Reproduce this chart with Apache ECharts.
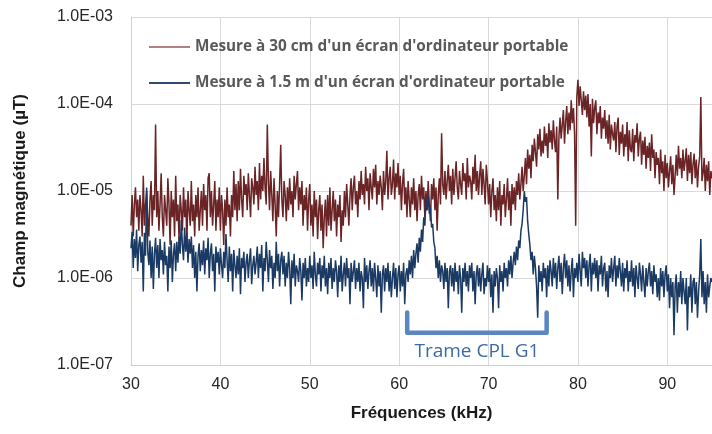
<!DOCTYPE html>
<html>
<head>
<meta charset="utf-8">
<script src="https://cdn.jsdelivr.net/npm/echarts@6/dist/echarts.min.js"></script>
<style>
  html, body { margin: 0; padding: 0; background: #fff; }
  #chart { width: 712px; height: 434px; }
</style>
</head>
<body>
<div id="chart"></div>
<script>
// Frequency sampling grid (kHz)
const freqStart = 30;
const freqStep = 0.125;

// Magnetic field readings in pT (1 pT = 1e-6 µT), one row per kHz
const redPT = [
  4, 9, 3, 7, 11, 5, 8, 3.5,
  9, 6, 3, 15, 4, 7, 10, 5,
  3, 8, 13, 4, 9, 6, 58, 5,
  10, 3.5, 7, 16, 5, 3, 9, 6,
  4, 14, 7, 2.4, 10, 5, 8, 3,
  15, 4.5, 7, 2.8, 9, 6, 3.5, 11,
  5, 8, 2.5, 10, 6, 4, 13, 4.5,
  7, 3, 9, 5, 11, 3.5, 6, 10,
  4, 12, 6, 9, 3.5, 14, 16, 5,
  10, 4, 7, 13, 3.5, 8, 5, 11,
  3.5, 9, 6, 2.4, 8, 4, 11, 5,
  7, 3, 9, 5, 17, 6, 12, 4.5,
  13, 6, 18, 8, 5, 15, 9, 12,
  6, 16, 9, 5, 14, 11, 7, 19,
  9, 13, 6, 21, 8, 15, 10, 24,
  11, 7, 58, 13, 6, 17, 9, 4.5,
  14, 7, 3, 10, 5, 12, 34, 8,
  5, 13, 9, 4.5, 11, 6, 14, 7,
  10, 5, 15, 8, 12, 17, 6, 11,
  7, 13, 4, 9, 6, 11, 3.5, 8,
  12, 4, 7, 3, 10, 5, 8, 2.8,
  6, 9, 3.5, 7, 2.2, 5, 8, 3,
  9, 4, 11, 3.5, 6, 10, 4.5, 8,
  3, 7, 5, 9, 2.6, 6, 4, 10,
  5, 12, 7, 4, 9, 14, 6, 11,
  15, 7, 10, 5, 13, 8, 17, 9,
  12, 7, 19, 10, 14, 6, 16, 11,
  8, 18, 11, 20, 7, 13, 9, 15,
  11, 6, 17, 9, 13, 29, 8, 14,
  19, 9, 12, 23, 8, 16, 11, 21,
  9, 15, 6, 12, 18, 7, 11, 5,
  13, 8, 5, 11, 7, 14, 6, 10,
  4.5, 9, 12, 6, 15, 8, 11, 5,
  10, 6, 13, 7, 4.5, 12, 8, 14,
  6, 11, 3.5, 9, 14, 7, 46, 12,
  9, 17, 8, 13, 20, 10, 15, 7,
  18, 9, 14, 22, 11, 8, 17, 12,
  9, 21, 13, 16, 8, 24, 11, 15,
  13, 8, 19, 12, 26, 10, 17, 9,
  15, 22, 9, 18, 12, 7, 20, 13,
  7, 12, 5, 10, 14, 6, 9, 4.5,
  11, 6, 13, 4, 9, 7, 12, 5,
  8, 14, 6, 10, 4, 12, 7, 11,
  6, 13, 9, 16, 8, 12, 19, 10,
  15, 24, 12, 30, 18, 26, 14, 34,
  22, 40, 28, 19, 45, 30, 52, 25,
  38, 27, 55, 33, 46, 24, 60, 36,
  50, 30, 65, 38, 28, 55, 8, 42,
  70, 40, 58, 85, 35, 62, 95, 45,
  80, 50, 110, 60, 90, 45, 4, 120,
  190, 95, 160, 110, 75, 140, 85, 125,
  70, 130, 55, 100, 25, 115, 60, 90,
  110, 45, 80, 60, 95, 40, 70, 52,
  85, 40, 65, 35, 75, 30, 58, 45,
  38, 62, 28, 55, 70, 26, 48, 35,
  58, 25, 45, 32, 62, 22, 50, 30,
  28, 52, 22, 44, 36, 60, 25, 40,
  48, 20, 38, 26, 42, 18, 33, 24,
  36, 17, 45, 24, 30, 14, 28, 20,
  24, 12, 30, 16, 22, 10, 26, 14,
  21, 11, 17, 25, 12, 20, 9, 15,
  26, 15, 33, 18, 24, 14, 30, 17,
  22, 31, 13, 26, 16, 28, 12, 20,
  27, 14, 23, 11, 19, 25, 120, 13,
  16, 24, 10, 20, 13, 22, 9, 17,
  14
];

const bluePT = [
  2.2, 3.4, 1.3, 2.8, 1.7, 3.6, 1.2, 2.4,
  3.0, 1.5, 2.6, 0.7, 3.3, 1.8, 11, 2.0,
  1.4, 2.7, 1.0, 2.3, 0.75, 1.9, 2.9, 1.3,
  2.4, 1.0, 2.8, 1.6, 2.1, 1.1, 2.6, 1.4,
  1.8, 0.7, 2.3, 1.3, 2.7, 0.9, 1.9, 2.5,
  1.2, 2.6, 1.5, 3.0, 1.9, 4.6, 2.4, 1.6,
  3.8, 2.0, 3.3, 1.5, 2.8, 1.9, 3.0, 1.3,
  2.4, 1.0, 2.0, 0.7, 1.8, 2.5, 1.2, 2.1,
  1.4, 2.7, 1.1, 2.2, 1.6, 2.9, 1.0, 1.9,
  2.5, 1.2, 1.9, 0.7, 2.3, 1.5, 2.0, 1.1,
  2.2, 1.4, 1.0, 2.0, 1.3, 3.2, 1.6, 0.9,
  2.3, 1.2, 1.9, 0.7, 2.1, 1.4, 1.0, 1.8,
  1.1, 2.2, 0.65, 1.7, 1.3, 2.0, 0.9, 1.5,
  1.9, 1.0, 1.6, 2.2, 0.85, 1.4, 1.8, 1.1,
  1.5, 2.3, 1.0, 1.9, 1.3, 2.4, 0.7, 1.7,
  1.2, 2.6, 1.6, 0.9, 2.1, 1.3, 1.8, 0.75,
  1.5, 1.0, 2.6, 1.2, 1.9, 0.8, 1.6, 2.0,
  1.1, 1.8, 0.8, 1.5, 1.0, 2.0, 1.3, 0.5,
  1.6, 1.0, 1.9, 0.8, 1.4, 1.2, 0.9, 1.7,
  1.2, 0.55, 1.5, 1.0, 1.7, 0.8, 1.3, 0.9,
  1.8, 1.0, 1.4, 0.75, 2.0, 1.1, 0.8, 1.5,
  1.1, 1.7, 0.7, 1.4, 1.0, 1.8, 0.8, 1.3,
  0.65, 1.5, 1.0, 1.7, 0.75, 1.3, 0.9, 1.6,
  1.2, 0.6, 1.4, 0.9, 1.8, 0.7, 1.1, 1.5,
  0.8, 1.7, 1.0, 1.3, 0.5, 1.5, 0.9, 1.2,
  1.6, 0.75, 1.3, 0.9, 1.5, 0.7, 1.2, 1.0,
  0.45, 1.7, 0.9, 1.4, 0.75, 1.2, 1.6, 0.8,
  1.3, 0.7, 1.5, 1.0, 0.6, 1.4, 0.8, 1.2,
  0.4, 1.1, 1.4, 0.7, 1.3, 0.9, 1.5, 0.7,
  1.2, 0.6, 1.0, 1.5, 0.75, 1.3, 0.6, 1.1,
  1.4, 0.7, 1.2, 0.8, 1.5, 0.5, 1.1, 1.3,
  0.9, 1.6, 1.1, 1.8, 1.0, 2.1, 1.3, 1.9,
  2.5, 1.5, 2.9, 2.0, 3.6, 2.6, 5.0, 4.0,
  8.0, 6.0, 9.0, 5.5, 6.5, 3.8, 4.2, 2.6,
  2.2, 1.3, 1.8, 1.0, 1.6, 0.9, 1.4, 1.2,
  0.75, 1.5, 0.9, 1.3, 0.45, 1.2, 1.4, 0.8,
  1.3, 0.7, 1.5, 0.9, 1.2, 0.65, 1.4, 1.0,
  0.4, 1.3, 0.9, 1.5, 0.8, 1.2, 0.7, 1.4,
  1.0, 1.5, 0.7, 1.2, 0.5, 1.1, 1.4, 0.8,
  1.3, 0.7, 1.1, 1.5, 0.65, 1.0, 0.8, 1.4,
  0.9, 1.3, 0.6, 1.1, 0.4, 1.2, 0.8, 1.3,
  1.0, 0.45, 1.4, 0.9, 1.2, 0.7, 1.5, 1.0,
  1.3, 0.8, 1.6, 1.1, 1.8, 1.0, 1.5, 2.0,
  1.4, 2.3, 1.6, 2.7, 2.2, 3.5, 4.2, 6.0,
  10, 7.5, 8.5, 4.5, 3.2, 2.4, 1.6, 2.0,
  1.1, 1.8, 1.3, 0.8, 0.35, 1.4, 0.9, 1.2,
  0.7, 1.5, 1.0, 1.3, 0.6, 1.4, 0.8, 1.6,
  1.2, 0.8, 1.7, 1.0, 1.5, 0.75, 1.3, 1.8,
  0.9, 1.5, 0.65, 1.3, 1.9, 1.0, 1.6, 0.8,
  1.4, 0.7, 1.2, 1.7, 0.6, 1.3, 1.0, 1.5,
  0.9, 1.9, 1.2, 0.8, 2.0, 1.3, 1.7, 1.0,
  1.6, 0.8, 1.4, 1.9, 0.7, 1.5, 1.1, 1.7,
  1.0, 1.6, 0.7, 1.4, 1.1, 1.8, 0.8, 1.3,
  1.5, 0.7, 1.2, 0.6, 1.4, 1.0, 1.7, 0.9,
  1.3, 1.8, 0.8, 1.4, 1.0, 1.7, 1.2, 0.8,
  1.5, 0.7, 1.3, 1.0, 1.6, 0.7, 1.2, 0.9,
  1.6, 0.8, 1.3, 0.6, 1.4, 1.0, 0.75, 1.5,
  1.1, 0.7, 1.4, 0.9, 0.6, 1.3, 0.8, 1.2,
  1.5, 0.8, 1.2, 0.65, 1.4, 0.9, 1.1, 0.6,
  1.0, 0.55, 1.3, 0.8, 1.2, 0.6, 1.1, 1.4,
  0.7, 1.1, 0.45, 1.0, 0.6, 0.9, 0.22, 0.8,
  1.1, 0.4, 0.9, 0.6, 1.2, 0.5, 1.0, 0.7,
  0.5, 1.0, 0.25, 0.8, 0.6, 1.1, 0.4, 0.9,
  1.0, 0.5, 0.9, 0.35, 0.7, 1.1, 2.8, 0.6,
  1.2, 0.5, 0.9, 0.4, 1.1, 0.6, 0.8, 1.0,
  0.9
];

const seriesNames = [
  "Mesure à 30 cm d'un écran d'ordinateur portable",
  "Mesure à 1.5 m d'un écran d'ordinateur portable"
];
const xTicks = [30, 40, 50, 60, 70, 80, 90];

// Bracket marking the PLC frame band
const bracketFreq = [60.9, 76.5];
const bracketLevel = [4.0e-7, 2.35e-7];
const bracketLabel = 'Trame CPL G1';
const bracketLabelAt = [68.7, 1.42e-7];

const toPairs = arr => arr.map((v, i) => [freqStart + i * freqStep, v * 1e-6]);

const fmtExp = v => {
  const e = Math.round(Math.log10(v));
  const sign = e < 0 ? '-' : '+';
  const a = Math.abs(e);
  return '1.0E' + sign + (a < 10 ? '0' + a : a);
};

const chart = echarts.init(document.getElementById('chart'), null, { renderer: 'canvas' });

chart.setOption({
  animation: false,
  backgroundColor: '#ffffff',
  grid: { left: 131, right: -2.5, top: 17, bottom: 69 },
  legend: {
    left: 144,
    top: 32,
    orient: 'vertical',
    itemGap: 16,
    itemWidth: 41,
    itemHeight: 2,
    icon: 'rect',
    textStyle: { fontFamily: 'Open Sans', fontWeight: 'bold', fontSize: 15.3, lineHeight: 20, color: '#595959' },
    data: [
      { name: seriesNames[0], itemStyle: { color: '#b3817f' } },
      { name: seriesNames[1], itemStyle: { color: '#2e4a72' } }
    ]
  },
  xAxis: {
    type: 'value',
    min: 30,
    max: 95,
    interval: 10,
    name: 'Fréquences (kHz)',
    nameLocation: 'middle',
    nameGap: 40,
    nameTextStyle: { fontFamily: 'Liberation Sans', fontWeight: 'bold', fontSize: 17, color: '#1a1a1a' },
    axisLine: { show: true, lineStyle: { color: '#d0d0d0', width: 1 } },
    axisTick: { show: false },
    axisLabel: {
      fontFamily: 'Liberation Sans', fontSize: 16, color: '#262626', margin: 12,
      showMaxLabel: false,
      formatter: v => (xTicks.indexOf(v) >= 0 ? String(v) : '')
    },
    splitLine: { show: true, lineStyle: { color: '#d9d9d9', width: 1 } }
  },
  yAxis: {
    type: 'log',
    logBase: 10,
    min: 1e-7,
    max: 1e-3,
    name: 'Champ magnétique (µT)',
    nameLocation: 'middle',
    nameGap: 102,
    nameTextStyle: { fontFamily: 'Liberation Sans', fontWeight: 'bold', fontSize: 17, color: '#1a1a1a' },
    axisLine: { show: true, lineStyle: { color: '#d0d0d0', width: 1 } },
    axisTick: { show: false },
    axisLabel: { fontFamily: 'Liberation Sans', fontSize: 16, color: '#262626', margin: 18, formatter: fmtExp },
    splitLine: { show: true, lineStyle: { color: '#d9d9d9', width: 1 } }
  },
  series: [
    {
      name: seriesNames[0],
      type: 'line',
      data: toPairs(redPT),
      showSymbol: false,
      symbol: 'none',
      lineStyle: { color: '#6b2426', width: 1.5 },
      itemStyle: { color: '#6b2426' },
      z: 2
    },
    {
      name: seriesNames[1],
      type: 'line',
      data: toPairs(bluePT),
      showSymbol: false,
      symbol: 'none',
      lineStyle: { color: '#1b3a63', width: 1.5 },
      itemStyle: { color: '#1b3a63' },
      z: 3
    },
    {
      name: 'bracket',
      type: 'line',
      data: [
        [bracketFreq[0], bracketLevel[0]],
        [bracketFreq[0], bracketLevel[1]],
        [bracketFreq[1], bracketLevel[1]],
        [bracketFreq[1], bracketLevel[0]]
      ],
      showSymbol: false,
      symbol: 'none',
      silent: true,
      lineStyle: { color: '#5a86c2', width: 4.5, cap: 'round', join: 'round' },
      z: 4
    }
  ]
});

// Caption under the bracket, positioned through the chart's own scales
const labelPx = chart.convertToPixel({ gridIndex: 0 }, bracketLabelAt);
chart.setOption({
  graphic: [{
    type: 'text',
    x: labelPx[0],
    y: labelPx[1],
    style: {
      text: bracketLabel,
      font: '19px "Open Sans"',
      fill: '#3d6aa3',
      textAlign: 'center',
      textVerticalAlign: 'middle'
    },
    z: 10
  }]
});
</script>
</body>
</html>
